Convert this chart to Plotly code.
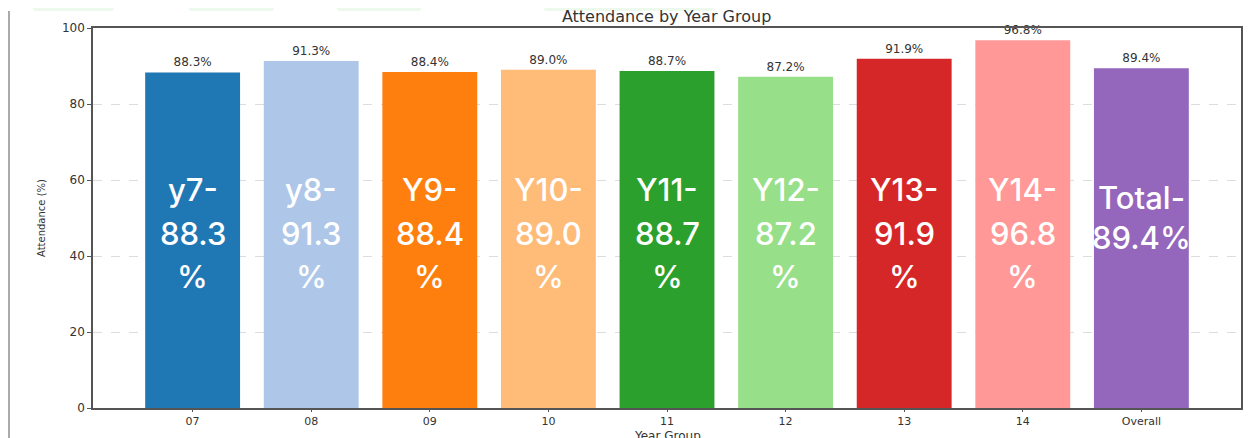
import plotly.graph_objects as go

categories = ["07", "08", "09", "10", "11", "12", "13", "14", "Overall"]
attendance = [88.3, 91.3, 88.4, 89.0, 88.7, 87.2, 91.9, 96.8, 89.4]
bar_colors = ["#1f77b4", "#aec7e8", "#ff7f0e", "#ffbb78", "#2ca02c",
              "#98df8a", "#d62728", "#ff9896", "#9467bd"]
overlay_lines = [
    ["y7-", "88.3", "%"],
    ["y8-", "91.3", "%"],
    ["Y9-", "88.4", "%"],
    ["Y10-", "89.0", "%"],
    ["Y11-", "88.7", "%"],
    ["Y12-", "87.2", "%"],
    ["Y13-", "91.9", "%"],
    ["Y14-", "96.8", "%"],
    ["Total-", "89.4%"],
]
y_ticks = [0, 20, 40, 60, 80, 100]

fig = go.Figure()
fig.add_trace(go.Bar(
    x=list(range(len(categories))),
    y=attendance,
    marker=dict(color=bar_colors, line=dict(width=0)),
    width=0.8,
    text=[f"{v:.1f}%" for v in attendance],
    textposition="outside",
    outsidetextfont=dict(family="DejaVu Sans", size=12, color="#333333"),
    cliponaxis=False,
    hoverinfo="skip",
))

# overlay white labels
line_y_normal = [57.4, 46.0, 34.7]
line_y_total = [55.5, 45.0]
annotations = []
for i, lines in enumerate(overlay_lines):
    ys = line_y_total if len(lines) == 2 else line_y_normal
    for txt, yy in zip(lines, ys):
        annotations.append(dict(
            x=i, y=yy, xref="x", yref="y", text=txt, showarrow=False,
            font=dict(family="Inter", size=31, color="white", weight=500),
            xanchor="center", yanchor="middle",
        ))

# x axis title placed just below the tick labels (partly cut by the window, as in the reference)
annotations.append(dict(
    x=0.5, y=-0.05, xref="paper", yref="paper", text="Year Group", showarrow=False,
    font=dict(family="DejaVu Sans", size=12, color="#333333"),
    xanchor="center", yanchor="top",
))

# page is offset by the 8px body margin, so the figure is sized to fit the window
fig.update_layout(
    width=1245, height=430,
    margin=dict(l=85, r=12, t=20, b=30, autoexpand=False),
    paper_bgcolor="white", plot_bgcolor="white",
    showlegend=False,
    title=dict(text="Attendance by Year Group", x=0.529, xanchor="center",
               y=0.981, yanchor="middle",
               font=dict(family="DejaVu Sans", size=16, color="#333333")),
    xaxis=dict(
        tickmode="array", tickvals=list(range(len(categories))), ticktext=categories,
        range=[-0.84, len(categories) - 1 + 0.84],
        showline=True, linecolor="#555555", linewidth=1.5, mirror=True,
        ticks="outside", ticklen=2, tickcolor="#555555",
        tickfont=dict(family="DejaVu Sans", size=11, color="#333333"),
        showgrid=False, zeroline=False, automargin=False,
    ),
    yaxis=dict(
        range=[0, 100], tickvals=y_ticks,
        showline=True, linecolor="#555555", linewidth=1.5, mirror=True,
        ticks="outside", ticklen=4, tickcolor="#555555",
        tickfont=dict(family="DejaVu Sans", size=12, color="#333333"),
        showgrid=True, gridcolor="#dddddd", griddash="dash", gridwidth=1,
        zeroline=False, automargin=False,
        title=dict(text="Attendance (%)", standoff=14,
                   font=dict(family="DejaVu Sans", size=10, color="#333333")),
    ),
    annotations=annotations,
)

# decorative screenshot elements (page pixel coordinates converted to paper)
def px_to_paper_x(px):
    return (px - 93) / 1148

def px_to_paper_y(py):
    return (408 - py) / 380

shapes = [dict(type="line", xref="paper", yref="paper",
               x0=px_to_paper_x(9), x1=px_to_paper_x(9),
               y0=px_to_paper_y(11), y1=px_to_paper_y(438),
               line=dict(color="#aaaaaa", width=2))]
bands = [(30, 117, 34, 113), (183, 277, 190, 273), (333, 425, 338, 420), (540, 717, 545, 712)]
for tl, tr, bl, br in bands:
    path = (f"M {px_to_paper_x(tl)},{px_to_paper_y(0)} L {px_to_paper_x(tr)},{px_to_paper_y(0)} "
            f"L {px_to_paper_x(br)},{px_to_paper_y(11)} L {px_to_paper_x(bl)},{px_to_paper_y(11)} Z")
    shapes.append(dict(type="path", xref="paper", yref="paper", path=path,
                       fillcolor="#eef9ee", line=dict(width=0), layer="below"))
fig.update_layout(shapes=shapes)

fig.write_html("out.html")
